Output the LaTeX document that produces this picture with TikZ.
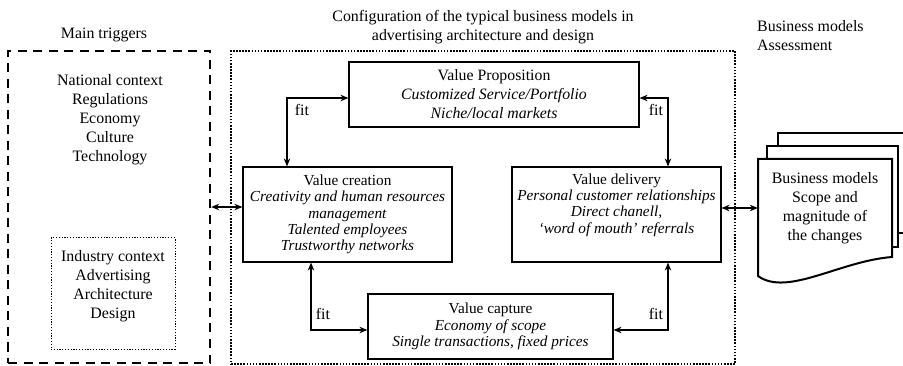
\documentclass[tikz,border=0pt]{standalone}
\usepackage{fontspec}
\setmainfont{Liberation Serif}
\usetikzlibrary{arrows.meta}
\tikzset{
  vbox/.style      = {rectangle, draw=black, line width=1.2pt, fill=white, align=center,
                      inner sep=0pt, font=\fontsize{15.3}{16.3}\selectfont},
  txt/.style       = {align=center, inner sep=0pt, font=\fontsize{15.9}{19}\selectfont},
  fitlbl/.style    = {inner sep=0pt, font=\fontsize{15.9}{19}\selectfont},
  fitflow/.style   = {{Stealth[length=8pt,width=6.5pt]}-{Stealth[length=8pt,width=6.5pt]},
                      line width=1.2pt},
  trigframe/.style = {rectangle, draw, line width=2.4pt, dash pattern=on 9pt off 6.5pt},
  cfgframe/.style  = {rectangle, draw, line width=2.2pt, dash pattern=on 1.6pt off 1.5pt},
  indframe/.style  = {rectangle, draw, line width=1pt, dash pattern=on 1.2pt off 1.6pt},
  page/.style      = {draw, line width=2pt, fill=white},
}

\begin{document}
\begin{tikzpicture}[x=1pt, y=-1pt]
  \clip (0,0) rectangle (903,366);

  % headings
  \node[txt] (trighead) at (104,35) {Main triggers};
  \node[txt] (cfghead) at (483,27) {Configuration of the typical business models in\\
                                   advertising architecture and design};
  \node[txt, align=left, anchor=west] (asshead) at (757,36) {Business models\\Assessment};

  % main triggers
  \node[trigframe, minimum width=202pt, minimum height=312pt] (mtrig) at (109,207) {};
  \node[txt] (natctx) at (110,120) {National context\\Regulations\\Economy\\Culture\\Technology};
  \node[indframe, minimum width=124pt, minimum height=111pt] (indbox) at (113,293.5) {};
  \node[txt] (indctx) at (113,286) {Industry context\\Advertising\\Architecture\\Design};

  % business model configuration
  \node[cfgframe, minimum width=504pt, minimum height=313pt] (cfg) at (483,207.5) {};
  \node[vbox, minimum width=290pt, minimum height=65pt, font=\fontsize{15.8}{19}\selectfont]
    (vprop) at (494,94.5) {Value Proposition\\\textit{Customized Service/Portfolio}\\
                           \textit{Niche/local markets}};
  \node[vbox, minimum width=209pt, minimum height=95pt] (vcre) at (347.5,214.5)
    {Value creation\\\textit{Creativity and human resources}\\\textit{management}\\
     \textit{Talented employees}\\\textit{Trustworthy networks}};
  \node[vbox, minimum width=209pt, minimum height=95pt] (vdel) at (616.5,214.5) {};
  \node[txt, font=\fontsize{15.3}{16.3}\selectfont] (vdeltxt) at (616.5,205)
    {Value delivery\\\textit{Personal customer relationships}\\\textit{Direct chanell,}\\
     \textit{‘word of mouth’ referrals}};
  \node[vbox, minimum width=245pt, minimum height=65pt] (vcap) at (490.5,326.5)
    {Value capture\\\textit{Economy of scope}\\\textit{Single transactions, fixed prices}};

  % fit links
  \draw[fitflow] ([yshift=-3.5pt]vprop.west) -| ([xshift=-60.5pt]vcre.north);
  \draw[fitflow] ([yshift=-3.5pt]vprop.east) -| ([xshift=51.5pt]vdel.north);
  \draw[fitflow] ([yshift=-3.5pt]vcap.west) -| ([xshift=-36.5pt]vcre.south);
  \draw[fitflow] ([yshift=-3.5pt]vcap.east) -| ([xshift=51.5pt]vdel.south);
  \node[fitlbl] (fitA) at (302,110) {fit};
  \node[fitlbl] (fitB) at (656,110) {fit};
  \node[fitlbl] (fitC) at (323,314) {fit};
  \node[fitlbl] (fitD) at (656,314) {fit};

  % stack of assessment sheets
  \draw[page] (778,133) rectangle (912,233);
  \draw[page] (767,146) rectangle (898,247);
  \draw[page] (758,159) -- (892,159) -- (892,257)
    .. controls (840,261) and (787,297) .. (758,276) -- cycle;
  \node[txt, minimum width=134pt] (bmdoc) at (825,208)
    {Business models\\Scope and\\magnitude of\\the changes};

  % links between the three parts
  \draw[fitflow] (mtrig.east) -- (mtrig.east -| vcre.west);
  \draw[fitflow] (vdel.east |- bmdoc.west) -- (bmdoc.west);
\end{tikzpicture}
\end{document}
